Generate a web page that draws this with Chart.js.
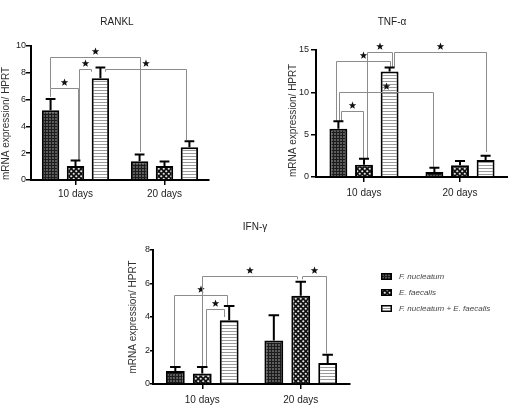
<!DOCTYPE html>
<html>
<head>
<meta charset="utf-8">
<script src="https://cdn.jsdelivr.net/npm/chart.js@4.4.0/dist/chart.umd.min.js"></script>
<style>
  html, body { margin: 0; padding: 0; background: #fff; }
  body { width: 508px; height: 406px; position: relative; overflow: hidden; font-family: "Liberation Sans", Arial, sans-serif; }
  canvas.panel { position: absolute; }
  #legend { position: absolute; left: 381px; top: 268px; font-size: 8px; font-style: italic; color: #444; }
  #legend .row { height: 16px; display: flex; align-items: center; white-space: nowrap; }
  #legend canvas { margin-right: 7px; }
</style>
</head>
<body>
<canvas id="rankl" class="panel" width="234" height="205" style="left:0;top:0"></canvas>
<canvas id="tnf" class="panel" width="232" height="205" style="left:276px;top:0"></canvas>
<canvas id="ifn" class="panel" width="256" height="201" style="left:127px;top:205px"></canvas>
<div id="legend"></div>
<script>
// categories and series
const groups = ["10 days", "20 days"];
const seriesNames = ["F. nucleatum", "E. faecalis", "F. nucleatum + E. faecalis"];

// RANKL (mean, SEM)
const ranklFn = [5.2, 1.4];
const ranklFnSem = [0.85, 0.5];
const ranklEf = [1.05, 1.05];
const ranklEfSem = [0.4, 0.33];
const ranklMix = [7.6, 2.45];
const ranklMixSem = [0.8, 0.45];

// TNF-α
const tnfFn = [5.7, 0.6];
const tnfFnSem = [0.88, 0.5];
const tnfEf = [1.45, 1.38];
const tnfEfSem = [0.7, 0.52];
const tnfMix = [12.45, 2.0];
const tnfMixSem = [0.48, 0.5];

// IFN-γ
const ifnFn = [0.78, 2.6];
const ifnFnSem = [0.24, 1.5];
const ifnEf = [0.62, 5.27];
const ifnEfSem = [0.4, 0.84];
const ifnMix = [3.81, 1.26];
const ifnMixSem = [0.84, 0.48];

// significance brackets: [seriesA, groupA, seriesB, groupB, level, legEndA, legEndB, offsetA, offsetB]
const ranklStars = [
  [0, 0, 1, 0, 6.84, 6.2, 1.5, -0.06, 0.13],
  [1, 0, 2, 0, 8.26, 1.5, 8.08, 0.18, -0.53],
  [0, 0, 0, 1, 9.2, 6.84, 2.1, -0.06, 0.0],
  [2, 0, 2, 1, 8.26, 8.08, 2.98, 0.29, -0.18]
];
const tnfStars = [
  [0, 0, 1, 0, 7.8, 6.6, 2.2, 0.15, -0.04],
  [0, 0, 2, 0, 13.7, 6.6, 13.0, -0.13, 0.05],
  [1, 0, 2, 0, 14.8, 2.2, 13.0, 0.18, 0.12],
  [0, 0, 0, 1, 10.0, 6.6, 1.2, 0.02, -0.06],
  [2, 0, 2, 1, 14.8, 13.0, 2.96, 0.24, 0.0]
];
const ifnStars = [
  [0, 0, 2, 0, 5.3, 1.05, 4.7, -0.08, -0.1],
  [1, 0, 2, 0, 4.46, 1.05, 4.0, 0.18, -0.26],
  [1, 0, 1, 1, 6.45, 1.05, 6.25, 0.0, -0.2],
  [1, 1, 2, 1, 6.45, 6.25, 1.83, 0.06, -0.07]
];

const FONT = '"Liberation Sans", Arial, sans-serif';
Chart.defaults.font.family = FONT;

// fill patterns for the three series
function makePattern(ctx, kind) {
  const c = document.createElement("canvas");
  const p = c.getContext("2d");
  if (kind === 0) {
    c.width = 3; c.height = 3;
    p.fillStyle = "#5c5c5c"; p.fillRect(0, 0, 3, 3);
    p.fillStyle = "#1c1c1c"; p.fillRect(0, 0, 3, 1); p.fillRect(0, 0, 1, 3);
  } else if (kind === 1) {
    c.width = 5; c.height = 5;
    p.fillStyle = "#111"; p.fillRect(0, 0, 5, 5);
    p.fillStyle = "#e6e6e6";
    p.beginPath(); p.arc(1.25, 1.25, 1.1, 0, Math.PI * 2); p.fill();
    p.beginPath(); p.arc(3.75, 3.75, 1.1, 0, Math.PI * 2); p.fill();
  } else {
    c.width = 3; c.height = 3;
    p.fillStyle = "#fff"; p.fillRect(0, 0, 3, 3);
    p.fillStyle = "#9a9a9a"; p.fillRect(0, 0, 3, 1);
  }
  return ctx.createPattern(c, "repeat");
}

function drawStar(ctx, cx, cy, r) {
  ctx.beginPath();
  for (let i = 0; i < 10; i++) {
    const rad = i % 2 === 0 ? r : r * 0.42;
    const a = -Math.PI / 2 + i * Math.PI / 5;
    const px = cx + rad * Math.cos(a), py = cy + rad * Math.sin(a);
    if (i === 0) ctx.moveTo(px, py); else ctx.lineTo(px, py);
  }
  ctx.closePath();
  ctx.fill();
}

// panel title, error bars + brackets
function extras(cfg) {
  return {
    id: "extras",
    afterDatasetsDraw(chart) {
      const ctx = chart.ctx, y = chart.scales.y;
      ctx.save();
      cfg.brackets.forEach(([sa, ga, sb, gb, level, endA, endB, offA, offB]) => {
        const a = chart.getDatasetMeta(sa).data[ga];
        const b = chart.getDatasetMeta(sb).data[gb];
        const xa = Math.round(a.x + offA * a.width) + 0.5;
        const xb = Math.round(b.x + offB * b.width) + 0.5;
        const yl = Math.round(y.getPixelForValue(level)) + 0.5;
        ctx.strokeStyle = "#8c8c8c";
        ctx.lineWidth = 1;
        ctx.beginPath();
        ctx.moveTo(xa, y.getPixelForValue(endA));
        ctx.lineTo(xa, yl);
        ctx.lineTo(xb, yl);
        ctx.lineTo(xb, y.getPixelForValue(endB));
        ctx.stroke();
        ctx.fillStyle = "#111";
        drawStar(ctx, (xa + xb) / 2, yl - 6, 4);
      });
      chart.data.datasets.forEach((ds, i) => {
        chart.getDatasetMeta(i).data.forEach((bar, j) => {
          const top = y.getPixelForValue(ds.data[j] + ds.sem[j]);
          const cap = bar.width * 0.28;
          ctx.strokeStyle = "#000";
          ctx.lineWidth = 2;
          ctx.beginPath();
          ctx.moveTo(bar.x, bar.y);
          ctx.lineTo(bar.x, top);
          ctx.moveTo(bar.x - cap, top);
          ctx.lineTo(bar.x + cap, top);
          ctx.stroke();
        });
      });
      ctx.fillStyle = "#222";
      ctx.font = "10px " + FONT;
      ctx.textAlign = "center";
      ctx.textBaseline = "middle";
      ctx.fillText(cfg.title, cfg.titleX, 22);
      ctx.restore();
    }
  };
}

function makeChart(id, cfg) {
  const ctx = document.getElementById(id).getContext("2d");
  const fills = [0, 1, 2].map(k => makePattern(ctx, k));
  return new Chart(ctx, {
    type: "bar",
    data: {
      labels: groups,
      datasets: cfg.means.map((m, i) => ({
        label: seriesNames[i],
        data: m,
        sem: cfg.sems[i],
        backgroundColor: fills[i],
        borderColor: "#000",
        borderWidth: 2,
        categoryPercentage: cfg.cat,
        barPercentage: 0.7
      }))
    },
    options: {
      responsive: false,
      animation: false,
      events: [],
      layout: { padding: cfg.pad },
      plugins: {
        legend: { display: false },
        tooltip: { enabled: false },
        title: { display: false }
      },
      scales: {
        x: {
          grid: { drawOnChartArea: false, offset: false, tickLength: 5, color: "#000", lineWidth: 1.5 },
          border: { color: "#000", width: 2 },
          ticks: { color: "#222", font: { size: 10 }, padding: cfg.xPad, maxRotation: 0 },
          afterFit: s => { s.height = cfg.xh; }
        },
        y: {
          min: 0,
          max: cfg.max,
          ticks: { stepSize: cfg.step, color: "#222", font: { size: 9 }, padding: cfg.yPad },
          grid: { drawOnChartArea: false, tickLength: cfg.yTick, color: "#000", lineWidth: 1.5 },
          border: { color: "#000", width: 2 },
          title: {
            display: true,
            text: "mRNA expression/ HPRT",
            color: "#333",
            font: { size: 10 },
            padding: 0,
            align: cfg.yTitleAlign
          },
          afterFit: s => { s.width = cfg.yw; }
        }
      }
    },
    plugins: [extras(cfg)]
  });
}

makeChart("rankl", {
  title: "RANKL", titleX: 117,
  means: [ranklFn, ranklEf, ranklMix],
  sems: [ranklFnSem, ranklEfSem, ranklMixSem],
  brackets: ranklStars,
  max: 10, step: 2, cat: 0.84,
  pad: { left: 0, right: 25, top: 46, bottom: 0 },
  xh: 25, yw: 31, xPad: 3, yPad: 0, yTick: 5, yTitleAlign: "start"
});

makeChart("tnf", {
  title: "TNF-α", titleX: 116,
  means: [tnfFn, tnfEf, tnfMix],
  sems: [tnfFnSem, tnfEfSem, tnfMixSem],
  brackets: tnfStars,
  max: 15, step: 5, cat: 0.8,
  pad: { left: 11, right: 0, top: 50, bottom: 0 },
  xh: 28, yw: 29, xPad: 5, yPad: 2, yTick: 5, yTitleAlign: "start"
});

makeChart("ifn", {
  title: "IFN-γ", titleX: 128,
  means: [ifnFn, ifnEf, ifnMix],
  sems: [ifnFnSem, ifnEfSem, ifnMixSem],
  brackets: ifnStars,
  max: 8, step: 2, cat: 0.82,
  pad: { left: 0, right: 33, top: 45, bottom: 0 },
  xh: 22, yw: 26, xPad: 5, yPad: 0, yTick: 3, yTitleAlign: "center"
});

// legend
const legend = document.getElementById("legend");
seriesNames.forEach((name, i) => {
  const row = document.createElement("div");
  row.className = "row";
  const sw = document.createElement("canvas");
  sw.width = 11; sw.height = 7;
  const sctx = sw.getContext("2d");
  sctx.fillStyle = makePattern(sctx, i);
  sctx.fillRect(0, 0, 11, 7);
  sctx.strokeStyle = "#000";
  sctx.lineWidth = 1.5;
  sctx.strokeRect(0.75, 0.75, 9.5, 5.5);
  const label = document.createElement("span");
  label.textContent = name;
  row.appendChild(sw);
  row.appendChild(label);
  legend.appendChild(row);
});
</script>
</body>
</html>
